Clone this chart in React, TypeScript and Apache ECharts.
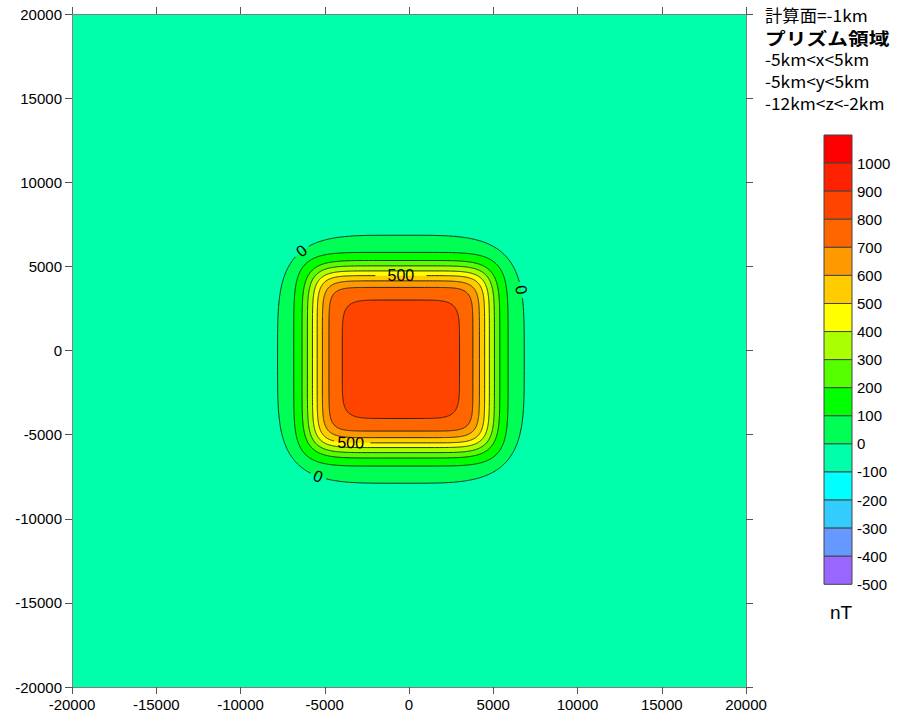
import React, { useEffect, useRef } from "react";
import * as echarts from "echarts";

// ---- data ----
const axisMin = -20000;
const axisMax = 20000;
const axisStep = 5000;

// closed contour lines (nT) of the anomaly, with their extents in metres
const contourLevels = [0, 100, 200, 300, 400, 500, 600, 700, 800];
const contourHalfWidth = [7320, 6360, 5870, 5550, 5250, 4970, 4660, 4270, 3480];
const contourHalfHeight = [7370, 6350, 5870, 5550, 5250, 4970, 4660, 4270, 3520];
const contourSquareness = [4, 6, 6.5, 7, 7.5, 8, 8, 8.5, 6.5];
const anomalyCenter = [-480, -520];

// contour labels: level and direction (degrees) from the anomaly centre
const contourLabelLevels = [0, 0, 0, 500, 500];
const contourLabelAngles = [132.5, 30, 234.8, 90, 239];

// colour bands (lower bound of each 100 nT band), top to bottom in the legend
const bandLows = [1000, 900, 800, 700, 600, 500, 400, 300, 200, 100, 0, -100, -200, -300, -400, -500];
const bandColors = [
  "#FF0000", "#FF2200", "#FF4400", "#FF6600", "#FF9900", "#FFCC00", "#FFFF00", "#AAFF00",
  "#55FF00", "#00FF00", "#00FF55", "#00FFAA", "#00FFFF", "#33CCFF", "#6699FF", "#9966FF",
];
const backgroundLevel = -100;
const unitLabel = "nT";
const infoLines = ["計算面=-1km", "プリズム領域", "-5km<x<5km", "-5km<y<5km", "-12km<z<-2km"];

// ---- helpers ----
const FONT = '"Liberation Sans", Arial, sans-serif';
const JFONT = '"Noto Sans CJK JP", sans-serif';

function bandColor(level: number) {
  return bandColors[bandLows.indexOf(level)];
}

function shapePoint(i: number, t: number) {
  const a = contourHalfWidth[i];
  const b = contourHalfHeight[i];
  const n = contourSquareness[i];
  const c = Math.cos(t);
  const s = Math.sin(t);
  return [
    anomalyCenter[0] + a * Math.sign(c) * Math.pow(Math.abs(c), 2 / n),
    anomalyCenter[1] + b * Math.sign(s) * Math.pow(Math.abs(s), 2 / n),
  ];
}

function radialPoint(i: number, phi: number) {
  const a = contourHalfWidth[i];
  const b = contourHalfHeight[i];
  const n = contourSquareness[i];
  const c = Math.cos(phi);
  const s = Math.sin(phi);
  const r = Math.pow(Math.pow(Math.abs(c / a), n) + Math.pow(Math.abs(s / b), n), -1 / n);
  return [anomalyCenter[0] + r * c, anomalyCenter[1] + r * s];
}

function labelPlacement(j: number, api: any) {
  const i = contourLevels.indexOf(contourLabelLevels[j]);
  const phi = (contourLabelAngles[j] * Math.PI) / 180;
  const p = api.coord(radialPoint(i, phi));
  const p1 = api.coord(radialPoint(i, phi - 0.02));
  const p2 = api.coord(radialPoint(i, phi + 0.02));
  let rot = -Math.atan2(p2[1] - p1[1], p2[0] - p1[0]);
  while (rot > Math.PI / 2) rot -= Math.PI;
  while (rot <= -Math.PI / 2) rot += Math.PI;
  return { p, rot, text: String(contourLabelLevels[j]) };
}

const LINE_STYLE = { fill: "none", stroke: "#1a1a1a", lineWidth: 0.9 };

function renderContour(params: any, api: any) {
  const i = api.value(0);
  const N = 720;
  const pts: number[][] = [];
  for (let k = 0; k < N; k++) pts.push(api.coord(shapePoint(i, (2 * Math.PI * k) / N)));
  const gaps: { p: number[]; r: number }[] = [];
  contourLabelLevels.forEach((lv, j) => {
    if (lv === contourLevels[i]) {
      const L = labelPlacement(j, api);
      gaps.push({ p: L.p, r: L.text.length * 4.4 + 3.5 });
    }
  });
  const inGap = pts.map((p) => gaps.some((g) => Math.hypot(p[0] - g.p[0], p[1] - g.p[1]) < g.r));
  const children: any[] = [
    { type: "polygon", shape: { points: pts }, style: { fill: bandColor(contourLevels[i]) } },
  ];
  if (!inGap.some(Boolean)) {
    children.push({ type: "polygon", shape: { points: pts }, style: LINE_STYLE });
  } else {
    const start = inGap.findIndex((g, k) => !g && inGap[(k - 1 + N) % N]);
    let run: number[][] = [];
    for (let m = 0; m <= N; m++) {
      const k = (start + m) % N;
      if (inGap[k]) {
        if (run.length > 1) children.push({ type: "polyline", shape: { points: run }, style: LINE_STYLE });
        run = [];
      } else run.push(pts[k]);
    }
    if (run.length > 1) children.push({ type: "polyline", shape: { points: run }, style: LINE_STYLE });
  }
  return { type: "group", children };
}

function renderLabel(params: any, api: any) {
  const j = api.value(0);
  const L = labelPlacement(j, api);
  return {
    type: "text",
    x: L.p[0],
    y: L.p[1],
    rotation: L.rot,
    style: {
      text: L.text,
      font: `16px ${FONT}`,
      fill: "#000",
      align: "center",
      verticalAlign: "middle",
    },
  };
}

function makeAxis(position: string, showLabel: boolean) {
  return {
    type: "value",
    min: axisMin,
    max: axisMax,
    interval: axisStep,
    position,
    axisLine: { show: true, onZero: false, lineStyle: { color: "#808080", width: 1 } },
    axisTick: { show: true, inside: false, length: 7, lineStyle: { color: "#555", width: 1 } },
    axisLabel: {
      show: showLabel,
      fontSize: 15,
      fontFamily: FONT,
      color: "#000",
      margin: 10,
      formatter: (v: number) => String(v),
    },
    splitLine: { show: false },
  };
}

export default function App() {
  const ref = useRef<HTMLDivElement>(null);
  useEffect(() => {
    if (!ref.current) return;
    const chart = echarts.init(ref.current, null, { renderer: "svg" });

    // colour bar legend
    const lgX = 824;
    const lgTop = 135;
    const lgW = 28;
    const lgH = 449.3 / bandLows.length;
    const legend: any[] = [];
    bandLows.forEach((low, k) => {
      legend.push({
        type: "rect",
        shape: { x: lgX, y: lgTop + k * lgH, width: lgW, height: lgH },
        style: { fill: bandColors[k], stroke: "#444", lineWidth: 1 },
      });
      legend.push({
        type: "text",
        x: lgX + lgW + 5,
        y: lgTop + (k + 1) * lgH,
        style: { text: String(low), font: `15px ${FONT}`, fill: "#000", verticalAlign: "middle", align: "left" },
      });
    });
    legend.push({
      type: "text",
      x: lgX + lgW / 2 + 3,
      y: 612,
      style: { text: unitLabel, font: `19px ${FONT}`, fill: "#000", align: "center", verticalAlign: "middle" },
    });
    const infoY = [15, 37, 59, 81, 103];
    infoLines.forEach((t, k) => {
      legend.push({
        type: "text",
        x: 765,
        y: infoY[k],
        scaleX: k === 1 ? 1.22 : 1.05,
        style: {
          text: t,
          font: k === 1 ? `bold 17px ${JFONT}` : `16.5px ${JFONT}`,
          fill: "#000",
          align: "left",
          verticalAlign: "middle",
        },
      });
    });

    chart.setOption({
      animation: false,
      grid: {
        left: 72,
        right: 177,
        top: 14,
        bottom: 31,
        show: true,
        backgroundColor: bandColor(backgroundLevel),
        borderWidth: 0,
      },
      xAxis: [makeAxis("bottom", true), makeAxis("top", false)],
      yAxis: [makeAxis("left", true), makeAxis("right", false)],
      series: [
        {
          type: "custom",
          xAxisIndex: 0,
          yAxisIndex: 0,
          clip: true,
          renderItem: renderContour,
          data: contourLevels.map((_, i) => [i]),
        },
        {
          type: "custom",
          xAxisIndex: 0,
          yAxisIndex: 0,
          clip: true,
          renderItem: renderLabel,
          data: contourLabelLevels.map((_, j) => [j]),
        },
      ],
      graphic: legend,
    });
    return () => chart.dispose();
  }, []);
  return (
    <div
      ref={ref}
      style={{ position: "fixed", left: 0, top: 0, width: 923, height: 718, background: "#fff" }}
    />
  );
}
